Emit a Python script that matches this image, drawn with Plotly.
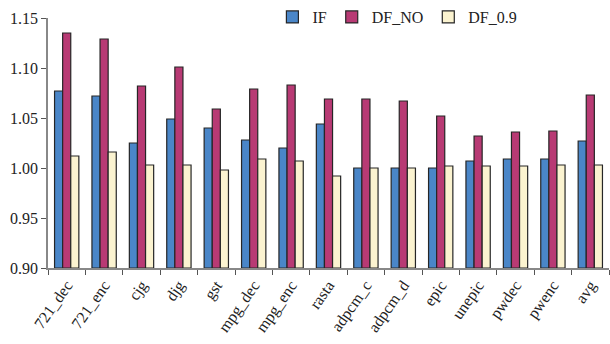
import plotly.graph_objects as go

# Benchmarks on the x axis
benchmarks = ["721_dec", "721_enc", "cjg", "djg", "gst", "mpg_dec", "mpg_enc",
              "rasta", "adpcm_c", "adpcm_d", "epic", "unepic", "pwdec", "pwenc", "avg"]

# Normalised values per configuration
if_vals = [1.077, 1.072, 1.025, 1.049, 1.040, 1.028, 1.020,
           1.044, 1.000, 1.000, 1.000, 1.007, 1.009, 1.009, 1.027]
df_no_vals = [1.135, 1.129, 1.082, 1.101, 1.059, 1.079, 1.083,
              1.069, 1.069, 1.067, 1.052, 1.032, 1.036, 1.037, 1.073]
df_09_vals = [1.012, 1.016, 1.003, 1.003, 0.998, 1.009, 1.007,
              0.992, 1.000, 1.000, 1.002, 1.002, 1.002, 1.003, 1.003]

y_ticks = [0.90, 0.95, 1.00, 1.05, 1.10, 1.15]

series = [
    ("IF", if_vals, "#4a86c8"),
    ("DF_NO", df_no_vals, "#b83a74"),
    ("DF_0.9", df_09_vals, "#fbf3d0"),
]

BASE = 0.90
fig = go.Figure()
for name, vals, color in series:
    fig.add_trace(go.Bar(
        name=name,
        x=benchmarks,
        y=[v - BASE for v in vals],
        base=BASE,
        marker=dict(color=color, line=dict(color="#262626", width=1.2)),
    ))

font = "'Liberation Serif'"
fig.update_layout(
    width=610, height=344,
    margin=dict(l=48, r=1, t=17, b=76),
    paper_bgcolor="white", plot_bgcolor="white",
    barmode="group", bargap=0.35, bargroupgap=0,
    font=dict(family=font, size=16, color="#222"),
    showlegend=True,
    legend=dict(orientation="h", x=0.40, y=1.0, xanchor="left", yanchor="middle",
                font=dict(family=font, size=16, color="#222"),
                bgcolor="rgba(0,0,0,0)", itemwidth=30, tracegroupgap=0),
    xaxis=dict(
        showline=True, linecolor="#888", linewidth=1.5,
        ticks="outside", ticklen=5, tickcolor="#555",
        tickson="boundaries", tickangle=-55,
        tickfont=dict(family=font, size=16, color="#222"),
        showgrid=False,
    ),
    yaxis=dict(
        range=[0.90, 1.15], tickvals=y_ticks,
        ticktext=[f"{t:.2f}" for t in y_ticks],
        showline=True, linecolor="#888", linewidth=1.5,
        ticks="outside", ticklen=5, tickcolor="#555",
        tickfont=dict(family=font, size=16, color="#222"),
        showgrid=False, zeroline=False,
    ),
)

fig.write_html("out.html")
